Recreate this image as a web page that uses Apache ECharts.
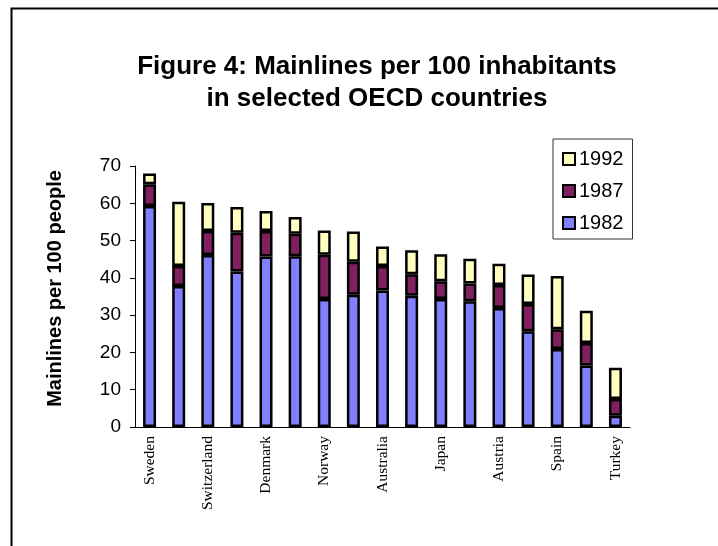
<!DOCTYPE html>
<html>
<head>
<meta charset="utf-8">
<script src="https://cdn.jsdelivr.net/npm/echarts@6/dist/echarts.min.js"></script>
<style>
  html, body { margin: 0; padding: 0; background: #fff; }
  #chart { width: 718px; height: 546px; }
</style>
</head>
<body>
<div id="chart"></div>
<script>
// countries in order (only every other one is labelled in the figure)
const countries = [
  "Sweden", "Iceland", "Switzerland", "Canada", "Denmark", "USA",
  "Norway", "Finland", "Australia", "Netherlands", "Japan", "UK",
  "Austria", "Belgium", "Spain", "Ireland", "Turkey"
];

// mainlines per 100 people
const lines1982 = [59.3, 37.8, 46.1, 41.7, 45.7, 45.8, 34.3, 35.5, 36.6, 35.2, 34.3, 33.7, 31.9, 25.7, 20.9, 16.5, 3.0];
const lines1987 = [65.1, 43.2, 52.6, 52.1, 52.6, 51.8, 46.2, 44.3, 43.2, 41.0, 39.1, 38.5, 38.1, 33.0, 26.2, 22.5, 7.5];
const lines1992 = [68.0, 60.4, 60.1, 59.0, 57.9, 56.3, 52.7, 52.4, 48.4, 47.4, 46.3, 45.1, 43.8, 40.9, 40.5, 31.2, 15.9];

const yTicks = [0, 10, 20, 30, 40, 50, 60, 70];

const chart = echarts.init(document.getElementById("chart"));

// each stacked piece is the growth since the previous year
const grow87 = lines1987.map((v, i) => +(v - lines1982[i]).toFixed(1));
const grow92 = lines1992.map((v, i) => +(v - lines1987[i]).toFixed(1));

const barStyle = (color) => ({
  color: color,
  borderColor: "#000",
  borderWidth: 2.5,
});

const option = {
  animation: false,
  backgroundColor: "#fff",
  title: {
    text: "Figure 4: Mainlines per 100 inhabitants\nin selected OECD countries",
    left: 372,
    top: 46,
    textAlign: "center",
    textStyle: {
      fontFamily: "Liberation Sans, Arial",
      fontWeight: "bold",
      fontSize: 26,
      lineHeight: 32,
      color: "#000",
    },
  },
  legend: {
    orient: "vertical",
    left: 553,
    top: 139,
    data: ["1992", "1987", "1982"],
    backgroundColor: "#fff",
    borderColor: "#333",
    borderWidth: 1,
    padding: [10, 9, 6, 9],
    itemGap: 12,
    itemWidth: 12,
    itemHeight: 12,
    icon: "rect",
    textStyle: {
      fontFamily: "Liberation Sans, Arial",
      fontSize: 20,
      color: "#000",
      padding: [0, 0, 0, -1],
    },
  },
  grid: {
    left: 135,
    right: 88,
    top: 166,
    bottom: 119,
  },
  xAxis: {
    type: "category",
    data: countries,
    axisLine: { lineStyle: { color: "#000", width: 1 } },
    axisTick: {
      interval: 0,
      length: 4,
      lineStyle: { color: "#000" },
    },
    axisLabel: {
      interval: 1,
      rotate: 90,
      margin: 9,
      fontFamily: "Liberation Serif, Times New Roman",
      fontSize: 15.5,
      color: "#000",
    },
  },
  yAxis: {
    type: "value",
    min: yTicks[0],
    max: yTicks[yTicks.length - 1],
    interval: 10,
    name: "Mainlines per 100 people",
    nameLocation: "middle",
    nameRotate: 90,
    nameGap: 70,
    nameTextStyle: {
      fontFamily: "Liberation Sans, Arial",
      fontWeight: "bold",
      fontSize: 20,
      color: "#000",
      padding: [0, 0, 0, 16],
    },
    axisLine: { show: true, lineStyle: { color: "#000", width: 1 } },
    axisTick: { show: true, length: 5, lineStyle: { color: "#000" } },
    splitLine: { show: false },
    axisLabel: {
      margin: 14,
      fontFamily: "Liberation Sans, Arial",
      fontSize: 19,
      color: "#000",
    },
  },
  series: [
    {
      name: "1982",
      type: "bar",
      stack: "lines",
      barWidth: 13,
      data: lines1982,
      itemStyle: barStyle("#8080ff"),
    },
    {
      name: "1987",
      type: "bar",
      stack: "lines",
      barWidth: 13,
      data: grow87,
      itemStyle: barStyle("#802060"),
    },
    {
      name: "1992",
      type: "bar",
      stack: "lines",
      barWidth: 13,
      data: grow92,
      itemStyle: barStyle("#ffffc0"),
    },
  ],
  graphic: [
    {
      type: "rect",
      left: 9,
      top: 6,
      shape: { width: 760, height: 600 },
      style: { fill: "none", stroke: "#000", lineWidth: 2 },
      silent: true,
    },
  ],
};

chart.setOption(option);
</script>
</body>
</html>
